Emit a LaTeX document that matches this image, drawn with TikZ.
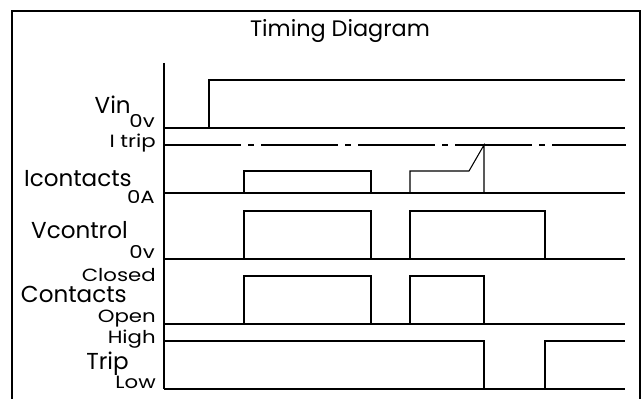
\documentclass[tikz,border=0pt]{standalone}
\usepackage{fontspec}
\setmainfont{Poppins}
\newfontfamily\widefont[FakeStretch=1.2]{Poppins}
\begin{document}
\begin{tikzpicture}[x=0.75pt,y=-0.75pt,
  wave/.style={line width=0.8pt,black},
  frameline/.style={line width=1.1pt,black},
  big/.style={anchor=base east,inner sep=0pt,font=\fontsize{17.3}{18}\selectfont},
  small/.style={anchor=base east,inner sep=0pt,font=\widefont\fontsize{13.3}{14}\selectfont},
  titlestyle/.style={anchor=base,inner sep=0pt,font=\fontsize{16.8}{18}\selectfont}]
\useasboundingbox (0,0) rectangle (644,399);
% frame
\draw[frameline] (12,399) -- (12,11) -- (640,11) -- (640,399);
\node[titlestyle] (title) at (340,37) {Timing Diagram};
% axis
\draw[wave] (164,63) -- (164,389);
% Vin
\draw[wave] (164,128) -- (625,128);
\draw[wave] (164,128) -- (209,128) -- (209,80) -- (625,80);
% I trip (dash-dot)
\draw[wave,dash pattern=on 57.75pt off 5.25pt on 4.5pt off 5.25pt] (164,145) -- (626,145);
% Icontacts
\draw[wave] (164,193) -- (625,193);
\draw[wave] (244,193) -- (244,171) -- (371,171) -- (371,193);
\draw[wave] (410,193) -- (410,171) -- (469,171) -- (484,145) -- (484,193);
% Vcontrol
\draw[wave] (164,259) -- (625,259);
\draw[wave] (244,259) -- (244,211) -- (371,211) -- (371,259);
\draw[wave] (410,259) -- (410,211) -- (545,211) -- (545,259);
% Contacts
\draw[wave] (164,324) -- (625,324);
\draw[wave] (244,324) -- (244,276) -- (371,276) -- (371,324);
\draw[wave] (410,324) -- (410,276) -- (484,276) -- (484,324);
% Trip
\draw[wave] (164,341) -- (484,341) -- (484,389) -- (545,389) -- (545,341) -- (625,341);
\draw[wave] (164,389) -- (625,389);
% labels
\node[big] (lvin) at (131,114) {Vin};
\node[small] (l0v1) at (155,128) {0v};
\node[small] (litrip) at (156,148) {I trip};
\node[big] (licont) at (132,187) {Icontacts};
\node[small] (l0a) at (155,204) {0A};
\node[big] (lvctl) at (128,239) {Vcontrol};
\node[small] (l0v2) at (155,259) {0v};
\node[small] (lclosed) at (156,282) {Closed};
\node[big] (lcont) at (127,303) {Contacts};
\node[small] (lopen) at (156,323) {Open};
\node[small] (lhigh) at (156,344) {High};
\node[big] (ltrip) at (129,370) {Trip};
\node[small] (llow) at (156,389) {Low};
\end{tikzpicture}
\end{document}
